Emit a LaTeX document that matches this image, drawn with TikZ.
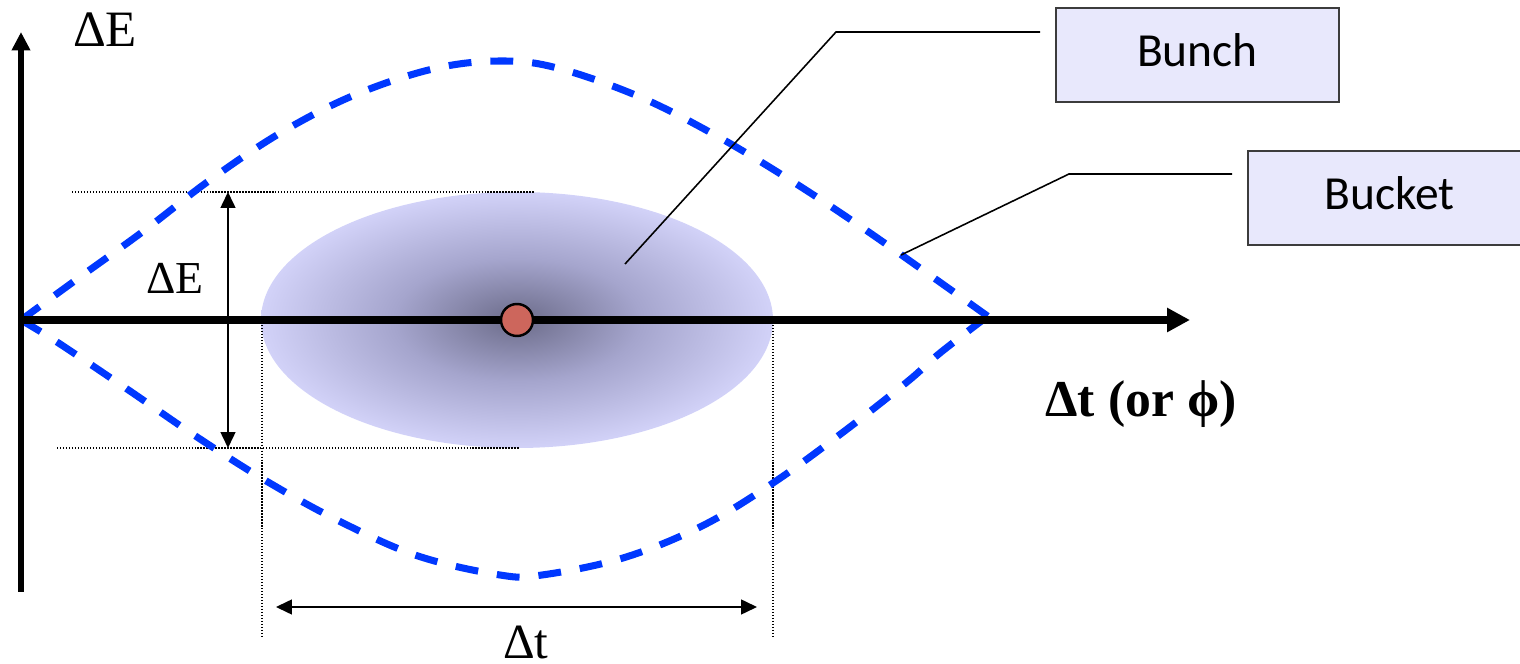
\documentclass[tikz,border=0pt]{standalone}
\usepackage{fontspec}
\setmainfont{Liberation Serif}
\newfontfamily\calibrifont{Carlito}
\usetikzlibrary{arrows.meta}
\definecolor{bucketblue}{RGB}{0,56,255}
\definecolor{boxfill}{RGB}{232,232,252}
\definecolor{boxdraw}{RGB}{60,60,60}
\definecolor{bcore}{RGB}{108,108,138}
\definecolor{bmid}{RGB}{165,165,205}
\definecolor{bedge}{RGB}{210,210,248}
\definecolor{seedred}{RGB}{205,102,92}
\pgfdeclareradialshading{bunchshade}{\pgfpointorigin}{color(0bp)=(bcore); color(12bp)=(bmid); color(25bp)=(bedge); color(50bp)=(bedge)}
\tikzset{
  vaxis/.style={line width=1.7pt, -{Triangle[length=5.2pt,width=5pt]}},
  haxis/.style={line width=2pt, -{Triangle[length=6.5pt,width=6.5pt]}},
  bucketline/.style={bucketblue, line width=2pt, dash pattern=on 6.5pt off 5.4pt},
  guide/.style={line width=0.35pt, dash pattern=on 0.35pt off 0.5pt},
  dimarrow/.style={line width=0.5pt, {Triangle[length=4.5pt,width=4.2pt]}-{Triangle[length=4.5pt,width=4.2pt]}},
  leader/.style={line width=0.45pt},
  labelbox/.style={draw=boxdraw, fill=boxfill, line width=0.5pt, minimum width=2.83cm, minimum height=0.94cm, inner sep=0pt, text depth=2.6pt, font=\calibrifont\fontsize{13.5}{16}\selectfont},
  greeklabel/.style={inner sep=0pt, font=\fontsize{14.5}{17}\selectfont}
}
\begin{document}
\begin{tikzpicture}[x=0.01cm,y=-0.01cm]
\useasboundingbox (0,0) rectangle (1520,664);
% bunch
\shade[shading=bunchshade] (517,320) ellipse [x radius=256, y radius=128];
% guides
\draw[guide] (72,192) -- (535,192);
\draw[guide] (57,448) -- (520,448);
\draw[guide] (262,325) -- (262,636);
\draw[guide] (773,325) -- (773,636);
% bucket separatrix
\draw[bucketline] plot[smooth, tension=0.6] coordinates {(21,320) (80,277) (145,230) (210,180) (282,132) (357,94) (437,68) (505,61) (561,69) (640,97) (715,135) (787,178) (857,224) (927,273) (993,320)};
\draw[bucketline] plot[smooth, tension=0.6] coordinates {(21,320) (57,342) (127,389) (197,437) (268,482) (341,522) (418,556) (500,575) (542,575) (623,558) (702,526) (773,483) (842,433) (907,382) (940,353) (988,316)};
% axes
\coordinate (origin) at (21,320);
\coordinate (ybot) at (21,592);
\coordinate (ytop) at (21,32);
\coordinate (xend) at (1190,320);
\draw[vaxis] (ybot) -- (ytop);
\draw[haxis] (origin) -- (xend);
% synchronous particle
\node[circle, draw=black, fill=seedred, line width=0.7pt, minimum size=0.32cm, inner sep=0pt] (seed) at (517,320) {};
% dimension arrows
\coordinate (dEa) at (228,192);
\coordinate (dEb) at (228,448);
\draw[dimarrow] (dEa) -- (dEb);
\coordinate (dta) at (276,607);
\coordinate (dtb) at (757,607);
\draw[dimarrow] (dta) -- (dtb);
% labels
\node[greeklabel] (dEtop) at (105,30) {ΔE};
\node[greeklabel, font=\fontsize{13}{15}\selectfont] (dEmid) at (175,278) {ΔE};
\node[greeklabel, font=\fontsize{14}{16}\selectfont] (dtlab) at (526,642) {Δt};
\node[greeklabel, font=\bfseries\fontsize{14.7}{18}\selectfont] (xlab) at (1141,404) {Δt (or ϕ)};
% callout boxes
\node[labelbox] (bunch) at (1197.5,55) {Bunch};
\node[labelbox] (bucket) at (1389.5,198) {Bucket};
\coordinate (bunchtip) at (625,264);
\coordinate (bunchbend) at (836,32);
\coordinate (bunchend) at (1040,32);
\draw[leader] (bunchtip) -- (bunchbend) -- (bunchend);
\coordinate (buckettip) at (901,255);
\coordinate (bucketbend) at (1069,174);
\coordinate (bucketend) at (1232,174);
\draw[leader] (buckettip) -- (bucketbend) -- (bucketend);
\end{tikzpicture}
\end{document}
